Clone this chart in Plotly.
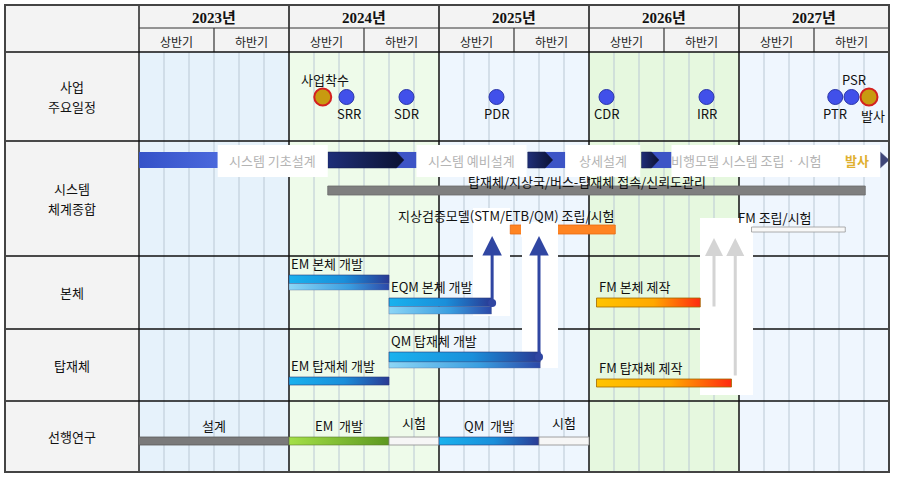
import plotly.graph_objects as go

# ---------------- data ----------------
years = ["2023년", "2024년", "2025년", "2026년", "2027년"]
halves = ["상반기", "하반기"]
row_labels = [["사업", "주요일정"], ["시스템", "체계종합"], ["본체"], ["탑재체"], ["선행연구"]]

# milestones (month index from Jan 2023)
ms_names = ["사업착수", "SRR", "SDR", "PDR", "CDR", "IRR", "PTR", "PSR", "발사"]
ms_month = [14.7, 16.6, 21.4, 28.6, 37.4, 45.4, 55.7, 57.0, 58.4]
ms_major = [True, False, False, False, False, False, False, False, True]

# system integration phases (top band)
phase_names = ["시스템 기초설계", "시스템 예비설계", "상세설계", "비행모델 시스템 조립 · 시험"]
phase_start = [0.0, 15.1, 31.1, 40.2]
phase_end = [6.3, 22.2, 34.1, 42.6]
phase_label_end = [15.1, 31.0, 40.1, 59.3]
launch_label = "발사"

# system integration tasks
sys_names = ["탑재체/지상국/버스-탑재체 접속/신뢰도관리", "지상검증모델(STM/ETB/QM) 조립/시험", "FM 조립/시험"]
sys_start = [15.1, 29.7, 49.0]
sys_end = [58.1, 38.1, 56.5]

# bus (본체)
bus_names = ["EM 본체 개발", "EQM 본체 개발", "FM 본체 제작"]
bus_start = [12.0, 20.0, 36.6]
bus_end = [20.0, 28.2, 44.9]

# payload (탑재체)
pl_names = ["QM 탑재체 개발", "EM 탑재체 개발", "FM 탑재체 제작"]
pl_start = [20.0, 12.0, 36.6]
pl_end = [32.1, 20.0, 47.4]

# pre-study (선행연구)
pre_names = ["설계", "EM  개발", "시험", "QM  개발", "시험"]
pre_start = [0.0, 12.0, 20.0, 24.0, 32.0]
pre_end = [12.0, 20.0, 24.0, 32.0, 36.0]

# ---------------- layout helpers ----------------
W, H = 899, 482
X0, PPM = 139, 12.5
def m(px):
    return (px - X0) / PPM

LEFT = m(5)
RIGHT = 60
TOP, YEAR_B, HEAD_B = 5, 28, 52
ROW_B = [52, 141, 256, 329, 401, 472]
year_bg = ["#e6f2fb", "#eefbea", "#eef6fe", "#e6f8df", "#eff6fe"]
KFONT = "Noto Sans CJK KR, sans-serif"

fig = go.Figure()
shapes = []
ann = []

def rect(x0, x1, y0, y1, fill, line=None, lw=0, layer="below"):
    shapes.append(dict(type="rect", xref="x", yref="y", x0=x0, x1=x1, y0=y0, y1=y1,
                       fillcolor=fill, line=dict(color=line or fill, width=lw), layer=layer))

def hline(x0, x1, y, color, w):
    shapes.append(dict(type="line", xref="x", yref="y", x0=x0, x1=x1, y0=y, y1=y,
                       line=dict(color=color, width=w), layer="below"))

def vline(x, y0, y1, color, w):
    shapes.append(dict(type="line", xref="x", yref="y", x0=x, x1=x, y0=y0, y1=y1,
                       line=dict(color=color, width=w), layer="below"))

def gbar(x0, x1, y0, y1, scale, edge="rgba(0,0,0,0)", ew=0.6):
    fig.add_trace(go.Scatter(x=[x0, x1, x1, x0, x0], y=[y0, y0, y1, y1, y0], mode="lines",
                             fill="toself", line=dict(color=edge, width=ew),
                             fillgradient=dict(type="horizontal", colorscale=scale),
                             hoverinfo="skip", showlegend=False))

def sbar(x0, x1, y0, y1, fill, edge, ew=0.8):
    fig.add_trace(go.Scatter(x=[x0, x1, x1, x0, x0], y=[y0, y0, y1, y1, y0], mode="lines",
                             fill="toself", fillcolor=fill, line=dict(color=edge, width=ew),
                             hoverinfo="skip", showlegend=False))

def text(x, y, s, size=13, color="#111", xa="center", ya="middle", bold=False, family=KFONT):
    if bold:
        s = "<b>" + s + "</b>"
    ann.append(dict(x=x, y=y, xref="x", yref="y", text=s, showarrow=False, xanchor=xa, yanchor=ya,
                    font=dict(size=size, color=color, family=family), borderpad=0))

# backgrounds
rect(LEFT, RIGHT, TOP, HEAD_B, "#f3f3f3")
rect(LEFT, 0, HEAD_B, ROW_B[-1], "#f3f3f3")
for i in range(len(years)):
    rect(12 * i, 12 * i + 12, HEAD_B, ROW_B[-1], year_bg[i])

# grid
for k in range(2, 60, 2):
    if k % 12:
        vline(k, HEAD_B, ROW_B[-1], "#bac8d4", 1)
for k in range(6, 60, 12):
    vline(k, YEAR_B, HEAD_B, "#333", 1.2)
for k in range(12, 60, 12):
    vline(k, TOP, ROW_B[-1], "#111", 1.5)
vline(0, TOP, ROW_B[-1], "#222", 1.5)
hline(0, RIGHT, YEAR_B, "#333", 1)
hline(LEFT, RIGHT, HEAD_B, "#111", 1.5)
for yb in ROW_B[1:-1]:
    hline(LEFT, RIGHT, yb, "#111", 1.3)

# white masks behind the dependency arrows (above grid, below bars)
rect(m(473), m(510), 208, 316, "white")
rect(m(522), m(558), 222, 368, "white")
rect(m(700), m(753), 218, 395, "white")

shapes.append(dict(type="rect", xref="x", yref="y", x0=LEFT, x1=RIGHT, y0=TOP, y1=ROW_B[-1],
                   line=dict(color="#444", width=2), fillcolor="rgba(0,0,0,0)", layer="above"))

# header texts
for i, yname in enumerate(years):
    text(12 * i + 6, (TOP + YEAR_B) / 2 + 1, yname, size=15, color="#111", bold=True,
         family="Liberation Serif, Noto Sans CJK KR, serif")
    for j, h in enumerate(halves):
        text(12 * i + 6 * j + 3, (YEAR_B + HEAD_B) / 2 + 1, h, size=12, color="#222")
for r, lines in enumerate(row_labels):
    cy = (ROW_B[r] + ROW_B[r + 1]) / 2
    n = len(lines)
    for li, s in enumerate(lines):
        text(LEFT / 2, cy + (li - (n - 1) / 2) * 20, s, size=13, color="#111")

# ---------------- milestones ----------------
MS_Y = 97
for name, mo, major in zip(ms_names, ms_month, ms_major):
    fig.add_trace(go.Scatter(
        x=[mo], y=[MS_Y], mode="markers", hoverinfo="skip", showlegend=False,
        marker=dict(size=17 if major else 15,
                    color="#c89a10" if major else "#4150ea",
                    line=dict(color="#d42020" if major else "#2a36a8", width=2 if major else 1))))
for name, mo in zip(ms_names, ms_month):
    if name in ("사업착수", "PSR"):
        text(mo + 0.2, MS_Y - 18, name, size=13)
    elif name == "SRR":
        text(mo + 0.2, MS_Y + 16, name, size=13)
    elif name == "발사":
        text(mo + 0.3, MS_Y + 18, name, size=13)
    else:
        text(mo, MS_Y + 16, name, size=13)

# ---------------- top phase band ----------------
BY0, BY1 = 152, 168
for i, (nm, s, e, le) in enumerate(zip(phase_names, phase_start, phase_end, phase_label_end)):
    if i == 0:
        gbar(s, e, BY0, BY1, [[0, "#3452c8"], [1, "#4a68dc"]])
    else:
        tip = e - 1.0
        sbar(tip - 0.7, e, BY0, BY1, "#3c54c6", "#3c54c6", 0.1)
        xs = [s, tip - 0.6, tip, tip - 0.6, s, s]
        ys = [BY0, BY0, (BY0 + BY1) / 2, BY1, BY1, BY0]
        fig.add_trace(go.Scatter(x=xs, y=ys, mode="lines", fill="toself",
                                 line=dict(color="#141c48", width=0.5),
                                 fillgradient=dict(type="horizontal",
                                                   colorscale=[[0, "#1e2e78"], [1, "#0c1232"]]),
                                 hoverinfo="skip", showlegend=False))
    rect(e, le, 145, 177, "white", layer="above")
    cx = (e + le) / 2 if i < 3 else e + 6.0
    text(cx, (BY0 + BY1) / 2, nm, size=13, color="#b4b4b4")
text(57.4, (BY0 + BY1) / 2, launch_label, size=13, color="#e0b030", bold=True)
fig.add_trace(go.Scatter(x=[59.3, 60, 59.3, 59.3], y=[BY0, (BY0 + BY1) / 2, BY1, BY0], mode="lines",
                         fill="toself", fillcolor="#3e4678", line=dict(color="#3e4678", width=0.5),
                         hoverinfo="skip", showlegend=False))

# ---------------- system integration tasks ----------------
sys_lane = [(186, 195), (225, 234), (227, 232)]
sys_fill = ["#7f7f7f", "#ff8422", "#f8f8f8"]
sys_edge = ["#6a6a6a", "#e86a10", "#999999"]
for k, (nm, s, e) in enumerate(zip(sys_names, sys_start, sys_end)):
    y0, y1 = sys_lane[k]
    sbar(s, e, y0, y1, sys_fill[k], sys_edge[k])
rect(m(521), m(558), 222, 237, "white", layer="above")
text((sys_start[0] + sys_end[0]) / 2 - 0.8, 181, sys_names[0], size=13)
text(sys_end[1], 215, sys_names[1], size=13, xa="right")
text(sys_start[2] - 1.2, 217, sys_names[2], size=13, xa="left")

BLUE_TOP = [[0, "#19b2ee"], [0.55, "#1a8fda"], [1, "#2a3a94"]]
BLUE_BOT = [[0, "#8cd6f6"], [0.6, "#3a9ee0"], [1, "#2c48a8"]]
FM_SCALE = [[0, "#ffc400"], [0.55, "#ffa800"], [1, "#ff2a10"]]

# ---------------- bus ----------------
bus_lane = [(275, 290), (298, 314), (298, 307)]
for k, (nm, s, e) in enumerate(zip(bus_names, bus_start, bus_end)):
    y0, y1 = bus_lane[k]
    if k < 2:
        mid = y0 + 8.5
        gbar(s, e, y0, mid, BLUE_TOP, "#2a3a7a", 0.6)
        gbar(s, e, mid, y1, BLUE_BOT, "#5a6a9a", 0.4)
    else:
        gbar(s, e, y0, y1, FM_SCALE, "#a06a00", 0.8)
    text(s + 0.1, y0 - 1, nm, size=13, xa="left", ya="bottom")

# ---------------- payload ----------------
pl_lane = [(352, 368), (377, 385), (379, 387)]
for k, (nm, s, e) in enumerate(zip(pl_names, pl_start, pl_end)):
    y0, y1 = pl_lane[k]
    if k == 0:
        mid = y0 + 10
        gbar(s, e, y0, mid, BLUE_TOP, "#2a3a7a", 0.6)
        gbar(s, e, mid, y1, BLUE_BOT, "#5a6a9a", 0.4)
    elif k == 1:
        gbar(s, e, y0, y1, BLUE_TOP, "#2a3a7a", 0.6)
    else:
        gbar(s, e, y0, y1, FM_SCALE, "#a06a00", 0.8)
    text(s + 0.1, y0 - 1, nm, size=13, xa="left", ya="bottom")

# ---------------- pre-study ----------------
PY0, PY1 = 437, 445
for k, (nm, s, e) in enumerate(zip(pre_names, pre_start, pre_end)):
    if nm == "설계":
        sbar(s, e, PY0, PY1, "#7a7a7a", "#5a5a5a")
    elif nm.startswith("EM"):
        gbar(s, e, PY0, PY1, [[0, "#a4e048"], [1, "#5c9820"]], "#5a7a30", 0.6)
    elif nm.startswith("QM"):
        gbar(s, e, PY0, PY1, BLUE_TOP, "#2a3a7a", 0.6)
    else:
        sbar(s, e, PY0, PY1, "#f6f6f6", "#8a8a8a")
    dy = -3 if nm == "시험" else 0
    text((s + e) / 2, PY0 - 1 + dy, nm, size=13, ya="bottom")

# ---------------- dependency arrows ----------------
arrow_from = [(bus_end[1] + 0.05, 303), (pl_end[0] - 0.1, 357)]
for (ax, ay) in arrow_from:
    ann.append(dict(x=ax, y=236, ax=ax, ay=ay, xref="x", yref="y", axref="x", ayref="y",
                    text="", showarrow=True, arrowhead=2, arrowsize=1.3, arrowwidth=3,
                    arrowcolor="#3046a2"))
    fig.add_trace(go.Scatter(x=[ax], y=[ay], mode="markers", hoverinfo="skip", showlegend=False,
                             marker=dict(size=8, color="#3046a2")))
gray_from = [(bus_end[2] + 1.1, 308), (pl_end[2] + 0.3, 377)]
for (ax, ay) in gray_from:
    ann.append(dict(x=ax, y=238, ax=ax, ay=ay, xref="x", yref="y", axref="x", ayref="y",
                    text="", showarrow=True, arrowhead=2, arrowsize=1.2, arrowwidth=3,
                    arrowcolor="#d4d4d4"))

fig.update_layout(
    width=W, height=H, margin=dict(l=0, r=0, t=0, b=0),
    paper_bgcolor="white", plot_bgcolor="white",
    xaxis=dict(range=[m(0), m(W)], visible=False, fixedrange=True),
    yaxis=dict(range=[H, 0], visible=False, fixedrange=True),
    shapes=shapes, annotations=ann, showlegend=False,
)
fig.write_html("out.html", config={"displayModeBar": False},
               post_script="document.body.style.margin='0';document.body.style.overflow='hidden';")
